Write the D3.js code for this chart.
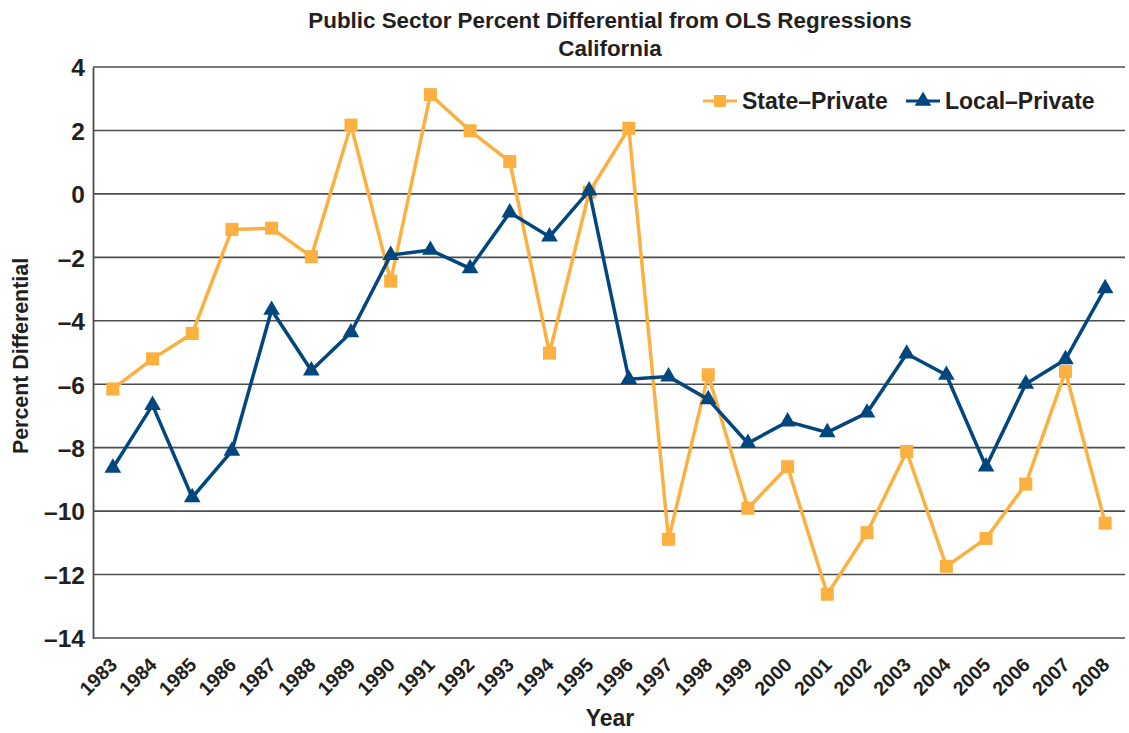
<!DOCTYPE html>
<html>
<head>
<meta charset="utf-8">
<script src="https://cdn.jsdelivr.net/npm/d3@7"></script>
<style>
  body { margin: 0; background: #fff; }
  svg { font-family: "Liberation Sans", Arial, sans-serif; font-weight: bold; }
  .grid-line { stroke: #4d4d4d; stroke-width: 1.6; }
</style>
</head>
<body>
<div class="container"></div>
<script>
const years = [1983, 1984, 1985, 1986, 1987, 1988, 1989, 1990, 1991, 1992, 1993, 1994, 1995,
  1996, 1997, 1998, 1999, 2000, 2001, 2002, 2003, 2004, 2005, 2006, 2007, 2008];
const statePrivate = [-6.15, -5.2, -4.4, -1.12, -1.08, -1.98, 2.17, -2.75, 3.13, 1.99, 1.02, -5.02, 0.05,
  2.07, -10.89, -5.7, -9.91, -8.6, -12.62, -10.68, -8.12, -11.74, -10.86, -9.15, -5.6, -10.38];
const localPrivate = [-8.64, -6.66, -9.57, -8.1, -3.66, -5.57, -4.37, -1.93, -1.77, -2.35, -0.59, -1.35, 0.1,
  -5.84, -5.76, -6.48, -7.86, -7.18, -7.52, -6.9, -5.04, -5.71, -8.6, -5.99, -5.22, -2.98];
const yTicks = [4, 2, 0, -2, -4, -6, -8, -10, -12, -14];
const seriesNames = ["State–Private", "Local–Private"];

const W = 1129, H = 733;
const margin = { top: 67, right: 4, bottom: 95, left: 93 };

const svg = d3.select(".container").append("svg")
  .attr("width", W).attr("height", H);

const xScale = d3.scalePoint()
  .domain(years)
  .range([margin.left, W - margin.right])
  .padding(0.5);

const yScale = d3.scaleLinear()
  .domain([-14, 4])
  .range([H - margin.bottom, margin.top]);

// title
svg.append("text").attr("x", 610).attr("y", 28).attr("text-anchor", "middle")
  .attr("font-size", 22.4).attr("fill", "#231f20")
  .text("Public Sector Percent Differential from OLS Regressions");
svg.append("text").attr("x", 610).attr("y", 56).attr("text-anchor", "middle")
  .attr("font-size", 22.4).attr("fill", "#231f20")
  .text("California");

// horizontal grid lines
svg.append("g").selectAll("line").data(yTicks).join("line")
  .attr("class", "grid-line")
  .attr("x1", margin.left).attr("x2", W - margin.right)
  .attr("y1", d => yScale(d)).attr("y2", d => yScale(d));

// y axis
const yAxis = svg.append("g")
  .attr("transform", `translate(${margin.left},0)`)
  .call(d3.axisLeft(yScale).tickValues(yTicks).tickSize(0).tickPadding(8)
    .tickFormat(d => d < 0 ? "–" + Math.abs(d) : d));
yAxis.select(".domain").attr("stroke", "#4d4d4d").attr("stroke-width", 1.8);
yAxis.selectAll("text").attr("font-size", 24.5).attr("font-family", "Liberation Sans, Arial, sans-serif")
  .attr("font-weight", "bold").attr("fill", "#231f20").attr("dy", "0.36em");

// x axis
const xAxis = svg.append("g")
  .attr("transform", `translate(0,${H - margin.bottom})`)
  .call(d3.axisBottom(xScale).tickSize(0).tickPadding(0));
xAxis.select(".domain").remove();
xAxis.selectAll("text")
  .attr("font-size", 19.5).attr("font-family", "Liberation Sans, Arial, sans-serif")
  .attr("font-weight", "bold").attr("fill", "#231f20")
  .attr("text-anchor", "end")
  .attr("dy", "0")
  .attr("transform", "translate(5,28) rotate(-45)");

// axis titles
svg.append("text").attr("x", 610).attr("y", 726).attr("text-anchor", "middle")
  .attr("font-size", 23).attr("fill", "#231f20").text("Year");
svg.append("text").attr("transform", "translate(28,356) rotate(-90)")
  .attr("text-anchor", "middle").attr("font-size", 21.4).attr("fill", "#231f20")
  .text("Percent Differential");

const orange = "#fbb040", navy = "#00467f";

const line = d3.line()
  .x((d, i) => xScale(years[i]))
  .y(d => yScale(d));

// State-Private
svg.append("path").datum(statePrivate)
  .attr("fill", "none").attr("stroke", orange).attr("stroke-width", 3.5)
  .attr("stroke-linejoin", "miter").attr("d", line);
svg.append("g").selectAll("rect").data(statePrivate).join("rect")
  .attr("x", (d, i) => xScale(years[i]) - 6.5)
  .attr("y", d => yScale(d) - 6.5)
  .attr("width", 13).attr("height", 13).attr("fill", orange);

// Local-Private
const tri = d3.symbol().type(d3.symbolTriangle).size(120);
svg.append("path").datum(localPrivate)
  .attr("fill", "none").attr("stroke", navy).attr("stroke-width", 3.5)
  .attr("stroke-linejoin", "miter").attr("d", line);
svg.append("g").selectAll("path").data(localPrivate).join("path")
  .attr("d", tri)
  .attr("transform", (d, i) => `translate(${xScale(years[i])},${yScale(d)})`)
  .attr("fill", navy);

// legend
const legend = svg.append("g").attr("transform", "translate(703,101)");
legend.append("line").attr("x1", 0).attr("x2", 34).attr("stroke", orange).attr("stroke-width", 3);
legend.append("rect").attr("x", 11).attr("y", -6).attr("width", 12).attr("height", 12).attr("fill", orange);
legend.append("text").attr("x", 39).attr("dy", "0.36em").attr("font-size", 23).attr("fill", "#231f20")
  .text(seriesNames[0]);
legend.append("line").attr("x1", 203).attr("x2", 237).attr("stroke", navy).attr("stroke-width", 3);
legend.append("path").attr("d", tri).attr("transform", "translate(220,0)").attr("fill", navy);
legend.append("text").attr("x", 242).attr("dy", "0.36em").attr("font-size", 23).attr("fill", "#231f20")
  .text(seriesNames[1]);
</script>
</body>
</html>
